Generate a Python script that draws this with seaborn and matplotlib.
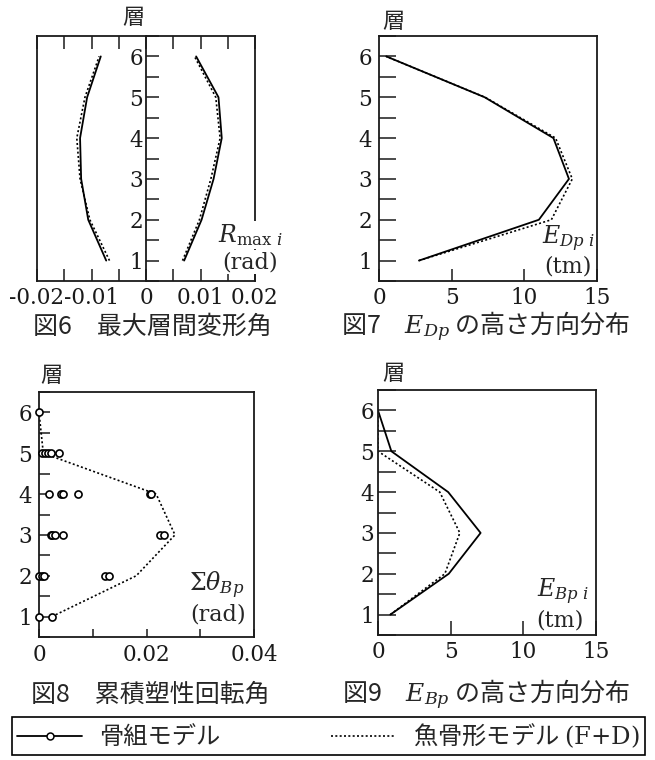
import numpy as np
import pandas as pd
import matplotlib
matplotlib.use("Agg")
import matplotlib.pyplot as plt
import seaborn as sns
from matplotlib.lines import Line2D
from matplotlib.ticker import MultipleLocator

sns.set_theme(style="ticks")
plt.rcParams["font.family"] = ["DejaVu Serif"]
plt.rcParams["mathtext.fontset"] = "dejavuserif"
plt.rcParams["axes.edgecolor"] = "#1a1a1a"
plt.rcParams["axes.linewidth"] = 1.3
plt.rcParams["xtick.color"] = "#1a1a1a"
plt.rcParams["ytick.color"] = "#1a1a1a"

# ---------------- data ----------------
floors = [1, 2, 3, 4, 5, 6]

# Fig.6 max inter-story drift angle (rad)
r_frame_neg = [-0.0073, -0.0106, -0.0119, -0.0121, -0.0108, -0.0083]
r_frame_pos = [0.0070, 0.0102, 0.0124, 0.0139, 0.0133, 0.0092]
r_fish_neg = [-0.0067, -0.0103, -0.0121, -0.0127, -0.0112, -0.0086]
r_fish_pos = [0.0067, 0.0098, 0.0119, 0.0136, 0.0128, 0.0089]

# Fig.7 E_Dp (tm)
edp_frame = [2.75, 11.0, 13.07, 12.0, 7.27, 0.5]
edp_fish = [2.75, 11.86, 13.3, 12.15, 7.3, 0.5]

# Fig.8 cumulative plastic rotation (rad)
theta_floor = [1, 1,
               2, 2, 2, 2, 2,
               3, 3, 3, 3, 3, 3,
               4, 4, 4, 4, 4, 4,
               5, 5, 5, 5, 5,
               6]
theta_frame = [0.0, 0.0024,
               0.0, 0.0005, 0.0009, 0.0123, 0.0130,
               0.0022, 0.0025, 0.0029, 0.0044, 0.0225, 0.0233,
               0.0019, 0.0040, 0.0045, 0.0073, 0.0207, 0.0209,
               0.0005, 0.0012, 0.0016, 0.0022, 0.0038,
               0.0]
theta_fish = [0.0024, 0.0181, 0.0253, 0.0218, 0.0008, 0.0]

# Fig.9 E_Bp (tm)
ebp_frame = [0.85, 4.87, 7.06, 4.83, 0.92, 0.0]
ebp_fish = [0.85, 4.6, 5.63, 4.25, 0.0, 0.0]

legend_labels = ["骨組モデル", r"魚骨形モデル $\mathrm{(F{+}D)}$"]

# ---------------- layout helpers ----------------
W, H = 655, 760
fig = plt.figure(figsize=(W / 100, H / 100), dpi=100)
fig.patch.set_facecolor("white")

CJK = ["Noto Sans CJK JP", "DejaVu Sans"]
DOT = (0, (1.2, 1.4))
SOLID_LW = 1.3
DOT_LW = 1.2


def rect(l, t, r, b):
    return [l / W, 1 - b / H, (r - l) / W, (b - t) / H]


def ftext(x, y, s, **kw):
    return fig.text(x / W, 1 - y / H, s, **kw)


def line(ax, vals, ls):
    sns.lineplot(x=vals, y=floors, ax=ax, sort=False, estimator=None,
                 orient="y", color="black",
                 lw=SOLID_LW if ls == "-" else DOT_LW, linestyle=ls)


def yfloor(ax, length, pad):
    ax.set_ylim(0.5, 6.5)
    ax.set_yticks(floors)
    ax.yaxis.set_minor_locator(MultipleLocator(0.5))
    ax.tick_params(axis="y", which="both", direction="in", length=length,
                   width=1.1, labelsize=15.5, pad=pad, left=True, right=False)


def clean(ax):
    ax.set_xlabel("")
    ax.set_ylabel("")
    for s in ax.spines.values():
        s.set_visible(True)


# ---------------- Fig.6 ----------------
ax1 = fig.add_axes(rect(37, 36, 255, 281))
line(ax1, r_frame_neg, "-")
line(ax1, r_frame_pos, "-")
line(ax1, r_fish_neg, DOT)
line(ax1, r_fish_pos, DOT)
clean(ax1)
ax1.set_xlim(-0.02, 0.02)
ax1.set_ylim(0.5, 6.5)
ax1.set_xticks([-0.02, -0.01, 0, 0.01, 0.02],
               ["-0.02", "-0.01", "0", "0.01", "0.02"])
ax1.xaxis.set_minor_locator(MultipleLocator(0.005))
ax1.tick_params(axis="x", which="both", direction="in", top=True,
                bottom=True, length=9, width=1.1, labelsize=15.5, pad=4)
ax1.set_yticks([])
sec = ax1.secondary_yaxis(0.5)
sec.set_alignment("left")
sec.set_yticks(floors)
sec.yaxis.set_minor_locator(MultipleLocator(0.5))
sec.tick_params(axis="y", which="both", direction="in", length=9,
                width=1.1, labelsize=15.5, pad=2)

# ---------------- Fig.7 ----------------
ax2 = fig.add_axes(rect(379, 36, 597, 281))
line(ax2, edp_frame, "-")
line(ax2, edp_fish, DOT)
clean(ax2)
ax2.set_xlim(0, 15)
ax2.set_xticks([0, 5, 10, 15])
ax2.tick_params(axis="x", direction="in", length=9, width=1.1,
                labelsize=15.5, pad=4, top=False)
yfloor(ax2, 12, 5)

# ---------------- Fig.8 ----------------
ax3 = fig.add_axes(rect(39, 392, 254, 637))
sns.lineplot(x=theta_fish, y=floors, ax=ax3, sort=False, estimator=None,
             orient="y", color="black", lw=DOT_LW, linestyle=DOT)
sns.scatterplot(x=theta_frame, y=theta_floor, ax=ax3, marker="o", s=26,
                color="white", edgecolor="black", linewidth=1.2,
                zorder=4, clip_on=False)
clean(ax3)
ax3.set_xlim(0, 0.04)
ax3.set_xticks([0, 0.01, 0.02, 0.03, 0.04], ["0", "", "0.02", "", "0.04"])
ax3.tick_params(axis="x", direction="in", length=6, width=1.1,
                labelsize=15.5, pad=5, top=False)
yfloor(ax3, 8, 5)

# ---------------- Fig.9 ----------------
ax4 = fig.add_axes(rect(378, 390, 596, 635))
line(ax4, ebp_frame, "-")
line(ax4, ebp_fish, DOT)
clean(ax4)
ax4.set_xlim(0, 15)
ax4.set_xticks([0, 5, 10, 15])
ax4.tick_params(axis="x", direction="in", length=10, width=1.1,
                labelsize=15.5, pad=4, top=False)
yfloor(ax4, 13, 3)

# ---------------- texts ----------------
for (x, y) in [(133, 18), (393, 22), (51, 375), (393, 373)]:
    ftext(x, y, "層", family=CJK, fontsize=16, ha="center", va="center")

box = dict(facecolor="white", edgecolor="none", pad=0.5)
ftext(250, 235, r"$R_{\mathrm{max}\ i}$", fontsize=17, ha="center",
      va="center", bbox=box)
ftext(250, 262, "(rad)", fontsize=16, ha="center", va="center", bbox=box)
ftext(569, 239, r"$E_{Dp\ i}$", fontsize=17, ha="center", va="center",
      bbox=box)
ftext(568, 266, "(tm)", fontsize=16, ha="center", va="center", bbox=box)
ftext(217, 585, r"$\Sigma\theta_{Bp}$", fontsize=17, ha="center",
      va="center")
ftext(218, 614, "(rad)", fontsize=16, ha="center", va="center")
ftext(563, 592, r"$E_{Bp\ i}$", fontsize=17, ha="center", va="center")
ftext(560, 620, "(tm)", fontsize=16, ha="center", va="center")

ftext(152, 327, "図6　最大層間変形角", family=CJK, fontsize=18,
      ha="center", va="center")
ftext(486, 327, r"図7　$E_{Dp}$ の高さ方向分布", family=CJK, fontsize=18,
      ha="center", va="center")
ftext(150, 695, "図8　累積塑性回転角", family=CJK, fontsize=18,
      ha="center", va="center")
ftext(486, 695, r"図9　$E_{Bp}$ の高さ方向分布", family=CJK, fontsize=18,
      ha="center", va="center")

# ---------------- legend ----------------
handles = [
    Line2D([], [], color="black", lw=SOLID_LW, marker="o", markersize=5,
           markerfacecolor="white", markeredgecolor="black",
           markeredgewidth=1.1),
    Line2D([], [], color="black", lw=DOT_LW, linestyle=DOT),
]
leg = fig.legend(handles, legend_labels, loc="lower left",
                 bbox_to_anchor=(12 / W, 1 - 755 / H, 633 / W, 39 / H),
                 mode="expand", ncol=2, frameon=True, fancybox=False,
                 edgecolor="black", framealpha=1,
                 prop={"family": CJK, "size": 17.5}, handlelength=2.7,
                 handletextpad=0.7, borderpad=0.2, borderaxespad=0,
                 numpoints=1)
leg.get_frame().set_linewidth(1.2)

fig.savefig("out.png", dpi=100, facecolor="white")
